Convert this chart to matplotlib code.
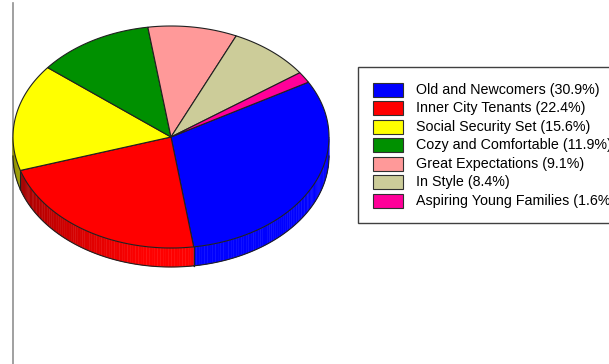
import numpy as np
import matplotlib
matplotlib.use("Agg")
import matplotlib.pyplot as plt
from matplotlib.patches import Polygon, Rectangle
from matplotlib.colors import to_rgb

labels = ["Old and Newcomers", "Inner City Tenants", "Social Security Set",
          "Cozy and Comfortable", "Great Expectations", "In Style",
          "Aspiring Young Families"]
values = [30.9, 22.4, 15.6, 11.9, 9.1, 8.4, 1.6]
colors = ["#0000FF", "#FF0000", "#FFFF00", "#009000", "#FF9999", "#CCCC99", "#FF0099"]

W, H = 609, 364
fig = plt.figure(figsize=(W / 100, H / 100), dpi=100)
ax = fig.add_axes([0, 0, 1, 1])
ax.set_xlim(0, W)
ax.set_ylim(H, 0)
ax.axis("off")

cx, cy, rx, ry, depth = 171, 137, 158, 111, 19
start = 29.6
total = sum(values)


def pt(theta, dy=0):
    t = np.radians(theta)
    return cx + rx * np.cos(t), cy - ry * np.sin(t) + dy


ranges = []
a = start
for v in values:
    span = 360 * v / total
    ranges.append((a - span, a))
    a -= span

for (a0, a1), c in zip(ranges, colors):
    base = np.array(to_rgb(c))
    lo, hi = a0 % 360, a0 % 360 + (a1 - a0)
    for off in (0, -360, 360):
        s0, s1 = max(lo + off, 180), min(hi + off, 360)
        if s1 <= s0:
            continue
        n = max(2, int((s1 - s0) / 1.0))
        th = np.linspace(s0, s1, n + 1)
        for i in range(n):
            tm = 0.5 * (th[i] + th[i + 1])
            f = min(1.0, 0.55 + 0.45 * (tm - 185) / 75)
            f = max(f, 0.55)
            col = np.clip(base * f, 0, 1)
            p1 = pt(th[i]); p2 = pt(th[i + 1])
            q2 = pt(th[i + 1], depth); q1 = pt(th[i], depth)
            ax.add_patch(Polygon([p1, p2, q2, q1], closed=True, facecolor=col,
                                 edgecolor=col, linewidth=0.3, zorder=1))
        tt = np.linspace(s0, s1, 100)
        xs, ys = zip(*[pt(t, depth) for t in tt])
        ax.plot(xs, ys, color="#202020", lw=0.8, zorder=2)
        for t in (s0, s1):
            if 180 < t < 360:
                x0, y0 = pt(t); x1, y1 = pt(t, depth)
                ax.plot([x0, x1], [y0, y1], color="#202020", lw=0.8, zorder=2)

for (a0, a1), c in zip(ranges, colors):
    tt = np.linspace(a0, a1, 120)
    pts = [(cx, cy)] + [pt(t) for t in tt]
    ax.add_patch(Polygon(pts, closed=True, facecolor=c, edgecolor="#202020",
                         linewidth=0.8, zorder=3))

ax.plot([13, 13], [3, H], color="#909090", lw=1.2, zorder=0)

ax.add_patch(Rectangle((358, 67), 270, 156, facecolor="white",
                       edgecolor="#404040", lw=1.0, zorder=4))
y0, step = 89.7, 18.55
for i, (lab, v, c) in enumerate(zip(labels, values, colors)):
    y = y0 + i * step
    ax.add_patch(Rectangle((373, y - 7), 29.5, 14, facecolor=c,
                           edgecolor="#303030", lw=0.8, zorder=5))
    ax.text(416, y, f"{lab} ({v}%)", fontsize=10.3, family="Liberation Sans",
            va="center", ha="left", color="black", zorder=6)

fig.savefig("out.png", dpi=100)
